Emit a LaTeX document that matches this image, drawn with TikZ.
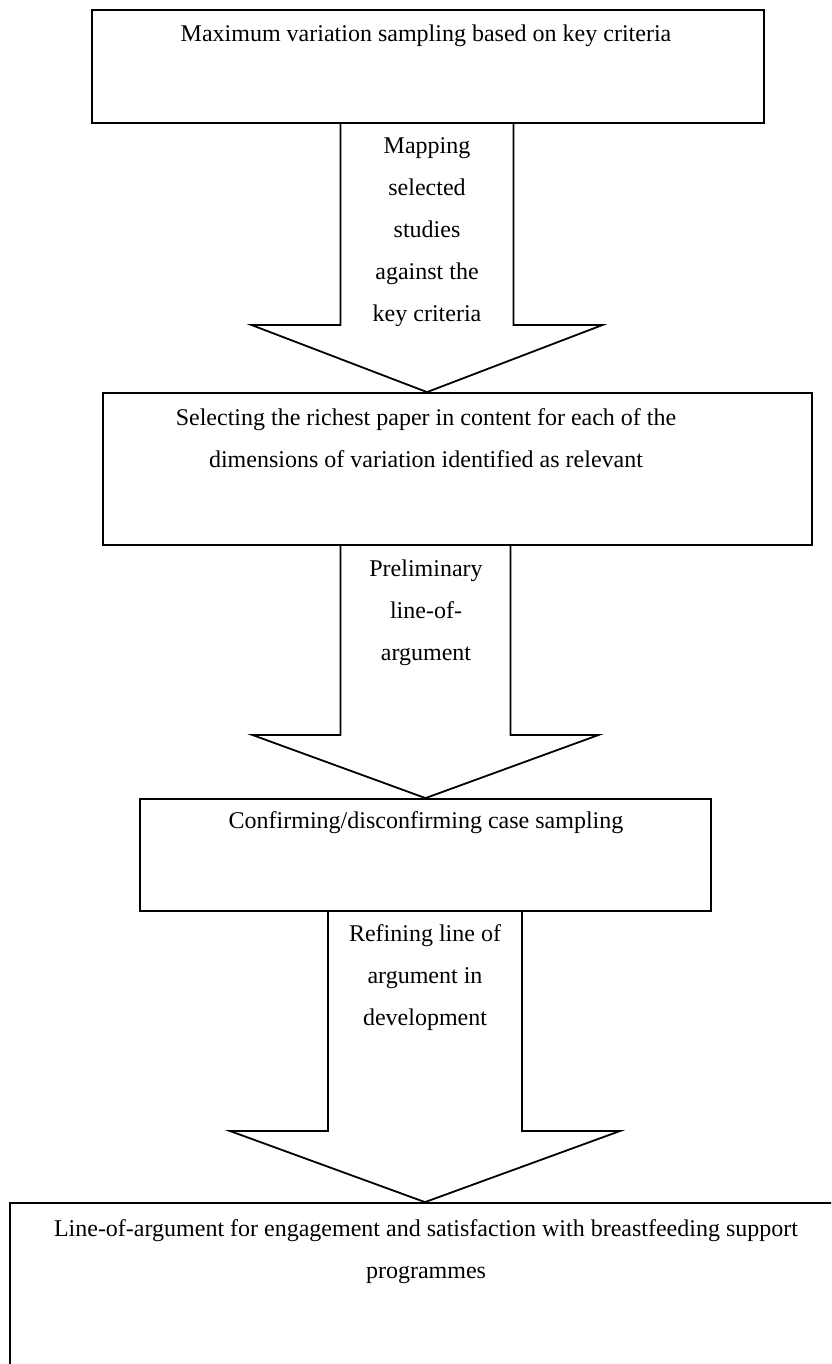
\documentclass[tikz,border=0pt]{standalone}
\usepackage{fontspec}
\setmainfont{Liberation Serif}
\usetikzlibrary{calc}
\tikzset{
  box/.style={draw, line width=0.9pt, rectangle, inner sep=0pt},
  lbl/.style={font=\fontsize{12}{21}\selectfont, align=center, anchor=north, inner sep=0pt},
  arrowshape/.style={draw, line width=0.9pt, line join=miter},
}
% #1 top node, #2 bottom node, #3 centre x, #4 head y, #5 shaft half width, #6 head half width
\newcommand\myblockarrow[6]{%
  \coordinate (ac) at (#3,#4);
  \draw[arrowshape] ($(ac |- #1.south)+(-#5,0)$) -- ($(ac)+(-#5,0)$) -- ($(ac)+(-#6,0)$)
    -- (ac |- #2.north) -- ($(ac)+(#6,0)$) -- ($(ac)+(#5,0)$) -- ($(ac |- #1.south)+(#5,0)$);
}
\begin{document}
\begin{tikzpicture}[x=0.5pt,y=-0.5pt]
\useasboundingbox (0,0) rectangle (831,1364);
\clip (0,0) rectangle (831,1364);
% boxes
\node[box, minimum width=336pt, minimum height=56.5pt] (b1) at (428,66.5) {};
\node[box, minimum width=354.5pt, minimum height=76pt] (b2) at (457.5,469) {};
\node[box, minimum width=285.5pt, minimum height=56pt] (b3) at (425.5,855) {};
\node[box, minimum width=420pt, minimum height=98.5pt] (b4) at (430,1301.5) {};
% texts in boxes
\node[lbl] (t1) at (426,24) {Maximum variation sampling based on key criteria};
\node[lbl] (t2) at (426,408) {Selecting the richest paper in content for each of the\\dimensions of variation identified as relevant};
\node[lbl] (t3) at (426,811) {Confirming/disconfirming case sampling};
\node[lbl] (t4) at (426,1219) {Line-of-argument for engagement and satisfaction with breastfeeding support\\programmes};
% block arrows
\myblockarrow{b1}{b2}{427}{325}{86.5}{175.5}
\myblockarrow{b2}{b3}{425.5}{735}{85}{173}
\myblockarrow{b3}{b4}{425}{1131}{97}{195}
% texts in arrows
\node[lbl] (a1) at (427,137) {Mapping\\selected\\studies\\against the\\key criteria};
\node[lbl] (a2) at (426,559) {Preliminary\\line-of-\\argument};
\node[lbl] (a3) at (425,924) {Refining line of\\argument in\\development};
\end{tikzpicture}
\end{document}
